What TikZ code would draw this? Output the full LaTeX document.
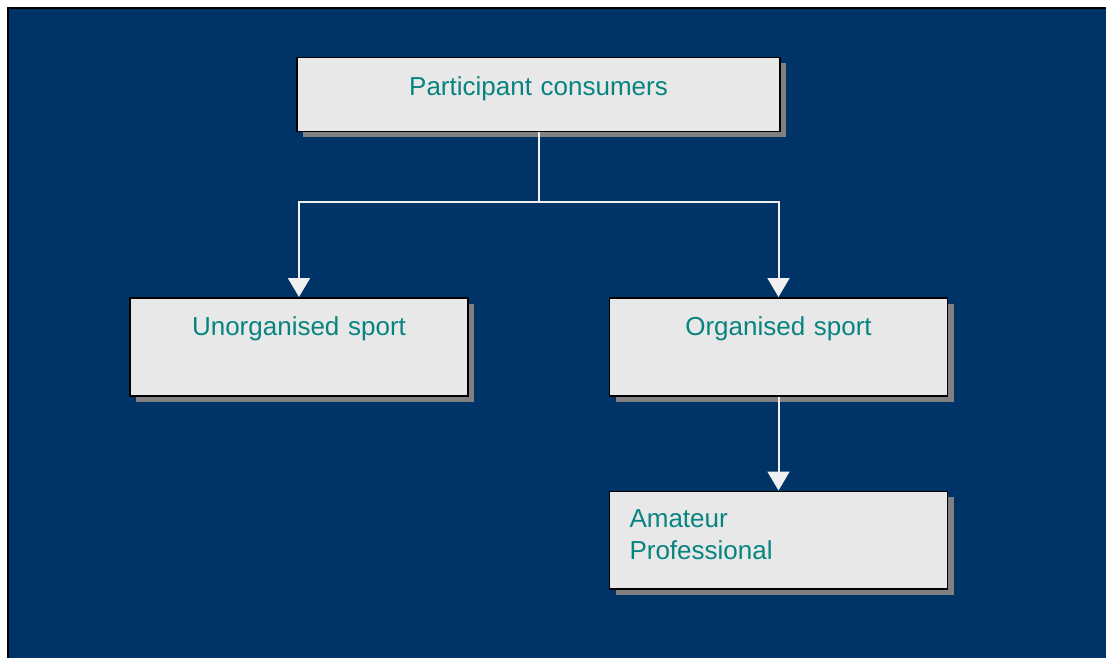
\documentclass[tikz,border=0pt]{standalone}
\usepackage{fontspec}
\setmainfont{Liberation Sans}
\usetikzlibrary{arrows.meta,positioning,shadows}

\definecolor{navy}{HTML}{003366}
\definecolor{boxfill}{HTML}{E8E8E8}
\definecolor{teal}{HTML}{088480}
\definecolor{wire}{HTML}{F0F0F0}

\begin{document}
\begin{tikzpicture}[x=1pt,y=-1pt,->,>={Triangle[width=22pt,length=19pt]},
  box/.style={draw=black, line width=1.5pt, fill=boxfill, text=teal,
    font=\fontsize{26}{32}\selectfont, inner sep=0pt,
    drop shadow={shadow xshift=6pt, shadow yshift=-6pt, fill=gray, opacity=1}},
  wide/.style={box, text width=338pt, align=center, text height=38pt, text depth=60pt},
  wire/.style={draw=wire, line width=2pt}]

\useasboundingbox (0,0) rectangle (1106,658);
\fill[white] (0,0) rectangle (1106,658);
\fill[navy] (8,8) rectangle (1106,658);
\draw[-, line width=2pt] (8,658) -- (8,8) -- (1106,8);

\node[box, text width=483pt, align=center, text height=38.5pt, text depth=35.5pt] (P) at (538.5,94.5) {Participant consumers};
\node[wide] (U) at (299,346.75) {Unorganised sport};
\node[wide] (O) [right=140pt of U] {Organised sport};
\node[box, text width=298pt, inner xsep=20pt, align=left, text height=36pt, text depth=61.5pt] (A) [below=94pt of O] {Amateur\\Professional};

\coordinate (split) at (538.5,201.5);

\draw[wire, -] (P) -- (split);
\draw[wire] (split) -| (U);
\draw[wire] (split) -| (O);
\draw[wire] (O) -- (A);

\end{tikzpicture}
\end{document}
